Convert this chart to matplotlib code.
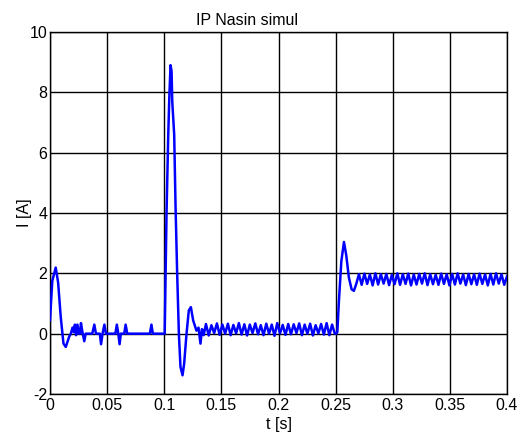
import numpy as np
import matplotlib
matplotlib.use('Agg')
import matplotlib.pyplot as plt

plt.rcParams['font.family'] = ['Liberation Sans', 'DejaVu Sans']
plt.rcParams['axes.unicode_minus'] = False

# start-up transient and small switching spikes
start_t = [0.0, 0.002, 0.005, 0.0071, 0.0094, 0.0118, 0.0138, 0.0168, 0.0182, 0.0197,
           0.0208, 0.0218, 0.0228, 0.0240, 0.0252, 0.0262, 0.0271, 0.0284, 0.0300, 0.0312,
           0.0370, 0.0388, 0.0402, 0.0436, 0.0447, 0.0460, 0.0476, 0.0490, 0.0572, 0.0585,
           0.0598, 0.0609, 0.0620, 0.0650, 0.0662, 0.0676, 0.0874, 0.0888, 0.0900, 0.1004]
start_i = [0.45, 1.75, 2.19, 1.7, 0.55, -0.33, -0.44, -0.1, 0.0, 0.2,
           0.05, 0.3, -0.05, 0.3, 0.0, 0.0, 0.35, 0.05, -0.25, 0.0,
           0.0, 0.3, 0.0, 0.0, -0.35, 0.0, 0.3, 0.0, 0.0, 0.3,
           0.0, -0.35, 0.0, 0.0, 0.3, 0.0, 0.0, 0.3, 0.0, 0.0]

# current peak at t = 0.1 s
spike_t = [0.1012, 0.1020, 0.1035, 0.1044, 0.1055, 0.1064, 0.1070, 0.1087, 0.1099, 0.1113,
           0.1128, 0.1142, 0.1160, 0.1174, 0.1195, 0.1215, 0.1233, 0.1253, 0.1282, 0.1300,
           0.1317, 0.1330, 0.1345]
spike_i = [2.0, 4.0, 6.6, 7.8, 8.9, 8.7, 7.7, 6.6, 4.2, 2.0,
           0.0, -1.1, -1.38, -1.0, 0.0, 0.77, 0.88, 0.44, 0.1, 0.2,
           -0.33, 0.15, -0.05]

# ripple around zero
ripple0_t = [0.1365, 0.1389, 0.1413, 0.1437, 0.1461, 0.1485, 0.1509, 0.1533, 0.1557, 0.1581,
             0.1605, 0.1629, 0.1653, 0.1677, 0.1701, 0.1725, 0.1749, 0.1773, 0.1797, 0.1821,
             0.1845, 0.1869, 0.1893, 0.1917, 0.1941, 0.1965, 0.1989, 0.2013, 0.2037, 0.2061,
             0.2085, 0.2109, 0.2133, 0.2157, 0.2181, 0.2205, 0.2229, 0.2253, 0.2277, 0.2301,
             0.2325, 0.2349, 0.2373, 0.2397, 0.2421, 0.2445, 0.2469, 0.2493]
ripple0_i = [0.32, -0.06, 0.28, 0.02, 0.34, -0.04, 0.30, 0.00, 0.33, -0.05,
             0.29, 0.01, 0.35, -0.03, 0.31, -0.06, 0.30, 0.02, 0.34, -0.02,
             0.28, -0.05, 0.33, 0.00, 0.30, -0.07, 0.35, 0.01, 0.29, -0.04,
             0.32, -0.02, 0.31, 0.02, 0.34, -0.05, 0.30, 0.00, 0.33, -0.06,
             0.28, 0.01, 0.32, -0.03, 0.35, -0.05, 0.30, 0.00]

# load step at t = 0.25 s
step_t = [0.2505, 0.2515, 0.2529, 0.2550, 0.2573, 0.2593, 0.2616, 0.2640, 0.2660, 0.2680]
step_i = [0.0, 0.05, 1.1, 2.4, 3.04, 2.6, 1.86, 1.47, 1.42, 1.64]

# ripple around the new operating point
ripple1_t = [0.2704, 0.2728, 0.2752, 0.2776, 0.2800, 0.2824, 0.2848, 0.2872, 0.2896, 0.2920,
             0.2944, 0.2968, 0.2992, 0.3016, 0.3040, 0.3064, 0.3088, 0.3112, 0.3136, 0.3160,
             0.3184, 0.3208, 0.3232, 0.3256, 0.3280, 0.3304, 0.3328, 0.3352, 0.3376, 0.3400,
             0.3424, 0.3448, 0.3472, 0.3496, 0.3520, 0.3544, 0.3568, 0.3592, 0.3616, 0.3640,
             0.3664, 0.3688, 0.3712, 0.3736, 0.3760, 0.3784, 0.3808, 0.3832, 0.3856, 0.3880,
             0.3904, 0.3928, 0.3952, 0.3976, 0.4000]
ripple1_i = [1.97, 1.62, 1.99, 1.65, 1.96, 1.60, 2.00, 1.63, 1.97, 1.66,
             1.98, 1.61, 1.95, 1.64, 2.00, 1.62, 1.97, 1.65, 1.99, 1.60,
             1.96, 1.63, 1.98, 1.66, 2.00, 1.61, 1.97, 1.64, 1.95, 1.62,
             1.99, 1.65, 1.97, 1.60, 1.98, 1.63, 2.00, 1.66, 1.96, 1.61,
             1.98, 1.64, 1.97, 1.62, 1.99, 1.65, 1.96, 1.60, 1.98, 1.63,
             2.00, 1.66, 1.97, 1.62, 1.90]

x_ticks = [0, 0.05, 0.1, 0.15, 0.2, 0.25, 0.3, 0.35, 0.4]
x_labels = ['0', '0.05', '0.1', '0.15', '0.2', '0.25', '0.3', '0.35', '0.4']
y_ticks = [-2, 0, 2, 4, 6, 8, 10]

t = np.concatenate([start_t, spike_t, ripple0_t, step_t, ripple1_t])
i = np.concatenate([start_i, spike_i, ripple0_i, step_i, ripple1_i])

fig = plt.figure(figsize=(5.29, 4.32), dpi=100)
ax = fig.add_axes([50/529, 38/432, 457/529, 362/432])

ax.plot(t, i, color='#0000ff', lw=1.8, zorder=3)

ax.set_xlim(0, 0.4)
ax.set_ylim(-2, 10)
ax.set_xticks(x_ticks)
ax.set_xticklabels(x_labels)
ax.set_yticks(y_ticks)
ax.grid(True, color='black', lw=1.0, ls='-')
ax.tick_params(direction='in', length=0, labelsize=11.5, pad=3)
ax.tick_params(axis='y', pad=2)
for s in ax.spines.values():
    s.set_color('black')
    s.set_linewidth(1.0)

ax.set_title('IP Nasin simul', fontsize=11.5, x=0.432, pad=5)
ax.set_xlabel('t [s]', fontsize=11.5, labelpad=3)
ax.set_ylabel('I [A]', fontsize=11.5, labelpad=-2)

fig.savefig('out.png', dpi=100)
